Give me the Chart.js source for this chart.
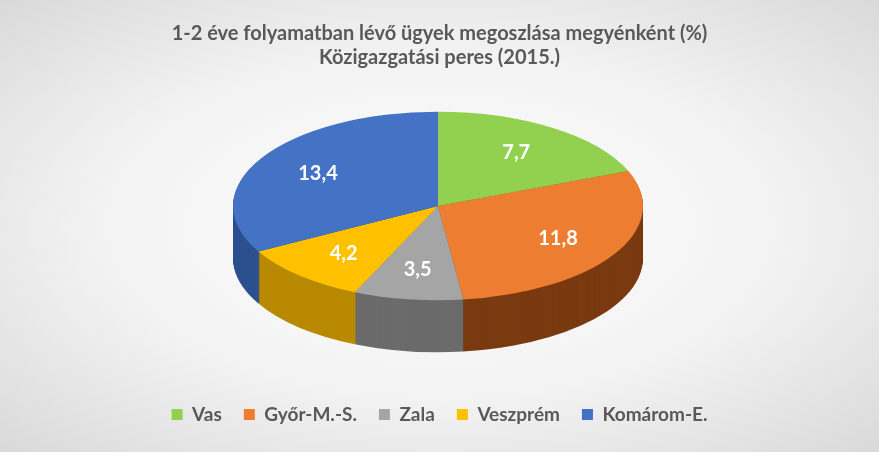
<!DOCTYPE html>
<html><head><meta charset="utf-8">
<script src="https://cdn.jsdelivr.net/npm/chart.js@4"></script>
<style>
html,body{margin:0;padding:0;}
body{width:879px;height:452px;background:radial-gradient(ellipse at center,#ffffff 0%,#f2f2f2 55%,#d9d9d9 100%);}
#wrap{width:879px;height:452px;}
</style></head><body>
<div id="wrap"><canvas id="c" width="879" height="452"></canvas></div>
<script>
const categories=["Vas","Győr-M.-S.","Zala","Veszprém","Komárom-E."];
const values=[7.7,11.8,3.5,4.2,13.4];
const colors=["#92d050","#ed7d31","#a5a5a5","#ffc000","#4472c4"];
const sideColors=["#5c8a2a","#7a3a10","#6b6b6b","#b88a00","#2c4f8f"];
const CX=438,CY=206,K=0.46,DEPTH=52,R=205;
function tf(ctx,el,d){ctx.translate(CX,CY+d);ctx.scale(1,K);ctx.translate(-el.x,-el.y);}
const pie3d={id:'pie3d',
beforeDatasetsDraw(chart){
 const ctx=chart.ctx,arcs=chart.getDatasetMeta(0).data;
 for(let d=DEPTH;d>=1;d--){
  arcs.forEach((el,i)=>{ctx.save();tf(ctx,el,d);ctx.fillStyle=sideColors[i];
   ctx.beginPath();ctx.moveTo(el.x,el.y);ctx.arc(el.x,el.y,el.outerRadius,el.startAngle,el.endAngle);ctx.closePath();ctx.fill();ctx.restore();});
 }
 ctx.save();tf(ctx,arcs[0],0);
},
afterDatasetsDraw(chart){
 const ctx=chart.ctx;ctx.restore();
 const arcs=chart.getDatasetMeta(0).data;
 ctx.save();ctx.fillStyle='#fff';ctx.font='bold 20px Lato';ctx.textAlign='center';ctx.textBaseline='middle';
 arcs.forEach((el,i)=>{const a=(el.startAngle+el.endAngle)/2;const r=el.outerRadius*0.68;
  ctx.fillText(values[i].toFixed(1).replace('.',','),CX+Math.cos(a)*r,CY+Math.sin(a)*r*K);});
 ctx.restore();
}};
new Chart(document.getElementById('c'),{type:'pie',
data:{labels:categories,datasets:[{data:values,backgroundColor:colors,borderWidth:0,radius:R}]},
options:{responsive:false,animation:false,events:[],
 plugins:{tooltip:{enabled:false},
  title:{display:true,text:["1-2 éve folyamatban lévő ügyek megoszlása megyénként (%)","Közigazgatási peres (2015.)"],color:'#595959',font:{family:'Lato',size:20,weight:'bold'},padding:{top:22,bottom:10},lineHeight:1.35},
  legend:{position:'bottom',labels:{color:'#595959',font:{family:'Lato',size:19,weight:'bold'},boxWidth:11,boxHeight:11,padding:22}}},
 layout:{padding:{bottom:18}}},
plugins:[pie3d]});
</script></body></html>
